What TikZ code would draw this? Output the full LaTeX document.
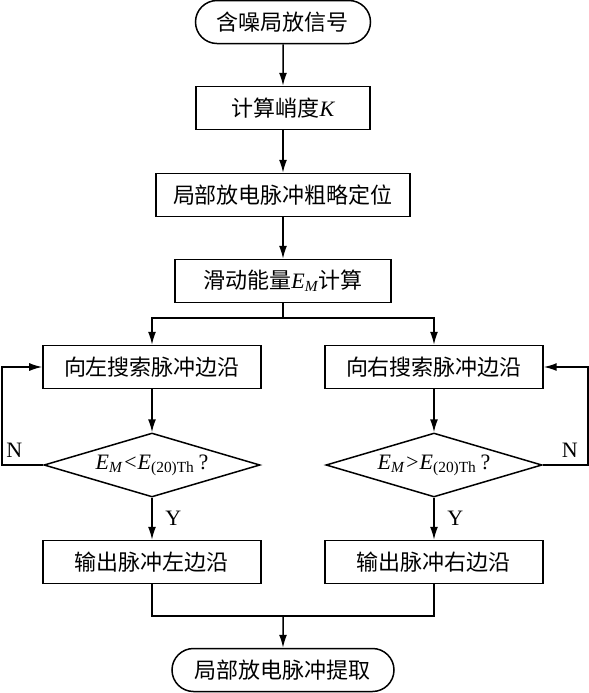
\documentclass[tikz,border=0pt]{standalone}
\usepackage{fontspec}
\setmainfont{Liberation Serif}
\newfontfamily\cjk{Noto Sans CJK SC}
\newfontfamily\timesfont{Liberation Serif}
\usepackage{tikz}
\usetikzlibrary{%
	arrows.meta,
	shapes.geometric,% wg. diamond
	shapes.misc% wg. rounded rectangle
}
\newcommand{\itvar}[1]{{\timesfont\itshape #1}}
\tikzstyle{block}=[rectangle, draw=black, line width=0.75pt, minimum height=21.5pt, inner sep=0pt, font=\fontsize{11}{13}\cjk]
\tikzstyle{term}=[block, rounded rectangle]
\tikzstyle{decision}=[diamond, draw=black, line width=0.75pt, shape aspect=3.4, minimum width=108pt, minimum height=32pt, inner sep=0pt, font=\fontsize{11}{13}\timesfont]
\tikzstyle{line}=[draw, line width=0.75pt, -{Latex[length=6.5pt,width=4pt]}]
\tikzstyle{plain}=[draw, line width=0.75pt]
\tikzstyle{weight}=[font=\fontsize{11}{13}\timesfont]

\begin{document}
\begin{tikzpicture}[x=0.5pt,y=-0.5pt]
		\useasboundingbox (0,0) rectangle (589,693);
		
		% First we draw the terminals
		\node[term, minimum width=87.5pt] (start) at (283,22) {含噪局放信号};
		\node[term, minimum width=111pt] (stop) at (283,670) {局部放电脉冲提取};
		
		% Then the process blocks
		\foreach \x/\y/\name/\bw/\txt in {
			283/108/kurt/87pt/{计算峭度\itvar{K}},
			283/195/locate/127pt/{局部放电脉冲粗略定位},
			283/281/energy/108pt/{滑动能量\itvar{E\textsubscript{M}}计算},
			152/367/lsearch/109pt/{向左搜索脉冲边沿},
			434/367/rsearch/109pt/{向右搜索脉冲边沿},
			152/562/lout/109pt/{输出脉冲左边沿},
			434/562/rout/109pt/{输出脉冲右边沿}}
		\node[block, minimum width=\bw] (\name) at (\x,\y) {\txt};
		
		% The decisions
		\node[decision] (ldec) at (152,465) {\itvar{E\textsubscript{M}<E\textsubscript{\upshape(20)Th}}\,?};
		\node[decision] (rdec) at (434,465) {\itvar{E\textsubscript{M}>E\textsubscript{\upshape(20)Th}}\,?};
		
		% Help points
		\coordinate (split) at (283,318);
		\coordinate (merge) at (283,616);
		\coordinate (lback) at (2,465);
		\coordinate (rback) at (588,465);
		
		% Connect blocks with arrows
		\foreach \source/ \dest in {start/kurt, kurt/locate, locate/energy, lsearch/ldec, rsearch/rdec}
		\path[line] (\source) -- (\dest);
		
		% Yes branches
		\foreach \source/ \dest in {ldec/lout, rdec/rout}
		\path[line] (\source) -- node[weight, right=3pt]{Y} (\dest);
		
		% No branches back
		\path[line] (ldec.west) -- node[weight, above, pos=0.7]{N} (lback) |- (lsearch.west);
		\path[line] (rdec.east) -- node[weight, above, pos=0.6]{N} (rback) |- (rsearch.east);
		
		% Split and merge
		\path[plain] (energy) -- (split);
		\path[line] (split) -| (lsearch);
		\path[line] (split) -| (rsearch);
		\path[plain] (lout) |- (merge) -| (rout);
		\path[line] (merge) -- (stop);
		
\end{tikzpicture}
\end{document}
